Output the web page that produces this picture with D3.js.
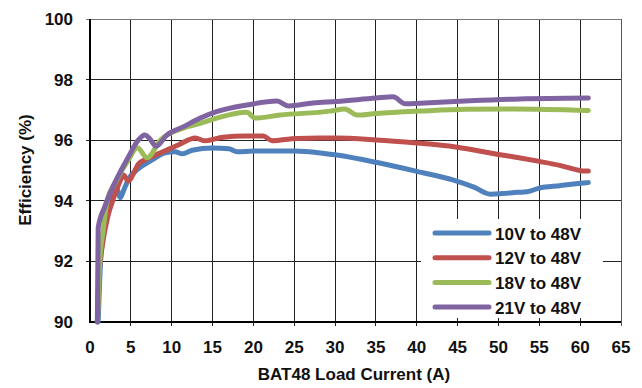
<!DOCTYPE html>
<html>
<head>
<meta charset="utf-8">
<script src="https://cdn.jsdelivr.net/npm/d3@7"></script>
<style>
  body { margin: 0; background: #fff; }
  svg text { font-family: "Liberation Sans", Arial, sans-serif; font-weight: bold; fill: #111; }
</style>
</head>
<body>
<svg width="642" height="388"></svg>
<script>
var xTicks = [0, 5, 10, 15, 20, 25, 30, 35, 40, 45, 50, 55, 60, 65];
var yTicks = [90, 92, 94, 96, 98, 100];
var seriesNames = ["10V to 48V", "12V to 48V", "18V to 48V", "21V to 48V"];
var seriesColors = ["#4F81BD", "#C0504D", "#9BBB59", "#8064A2"];

// [load current (A), efficiency (%)]
var eff10 = [[1.0,90],[1.3,92],[1.8,93.2],[2.5,94.0],[3.0,94.4],[3.3,94.4],[3.7,94.1],[4.2,94.4],[4.8,94.75],
  [5.9,95.05],[7.6,95.35],[9.2,95.58],[10.4,95.62],[11.3,95.55],[12.5,95.67],[15,95.74],[17,95.72],[18,95.62],
  [20,95.64],[25,95.64],[28.2,95.58],[30.2,95.51],[35,95.27],[40,94.97],[44.5,94.68],[47,94.45],[49,94.22],
  [50.5,94.24],[52.3,94.28],[53.5,94.3],[55,94.42],[57.5,94.5],[59.5,94.56],[61,94.6]];
var eff12 = [[0.9,90],[1.1,91.5],[1.5,92.5],[2.2,93.5],[2.9,94.1],[3.6,94.6],[4.1,94.85],[4.7,94.65],[5.5,95.0],
  [5.9,95.2],[7.1,95.4],[8.8,95.6],[10.8,95.84],[12.9,96.07],[14.1,95.98],[16.3,96.1],[19,96.14],[21.2,96.14],
  [22.3,95.98],[25.3,96.06],[30,96.07],[35,96.01],[40,95.91],[42.5,95.85],[45,95.77],[47.5,95.65],[50,95.53],
  [52.5,95.42],[55,95.3],[57.5,95.17],[59.5,95.03],[60.3,94.98],[61,94.98]];
var eff18 = [[0.9,90],[1.2,92],[1.6,93],[2.1,94],[3.1,94.6],[4.7,95.35],[5.8,95.75],[7.0,95.42],[8.6,96.0],
  [11.4,96.4],[13.5,96.56],[15.5,96.73],[19.2,96.92],[20.2,96.73],[23.3,96.83],[29.4,96.96],[31.2,97.03],
  [32.7,96.83],[35,96.88],[40.4,96.96],[46,97.02],[52,97.03],[61,96.98]];
var eff21 = [[0.9,90],[1.0,93.1],[1.8,93.8],[2.7,94.4],[3.7,94.95],[4.7,95.45],[5.9,96.0],[6.7,96.17],[7.3,96.05],
  [8.1,95.8],[9.4,96.17],[11.4,96.44],[13.5,96.73],[15.5,96.94],[19.2,97.16],[22.9,97.29],[24.3,97.13],
  [27.3,97.23],[30.2,97.28],[35,97.39],[37.1,97.43],[38.6,97.2],[40.4,97.22],[46.5,97.3],[52.6,97.36],[61,97.39]];
var allSeries = [eff10, eff12, eff18, eff21];

var svg = d3.select("svg"),
    margin = {top: 19, right: 21, bottom: 66, left: 90},
    width = 642 - margin.left - margin.right,
    height = 388 - margin.top - margin.bottom;

var g = svg.append("g").attr("transform", "translate(" + margin.left + "," + margin.top + ")");

var x = d3.scaleLinear().domain([0, 65]).range([0, width]),
    y = d3.scaleLinear().domain([90, 100]).range([height, 0]);

// grid
g.append("g").selectAll("line.v")
  .data(xTicks.slice(1))
  .enter().append("line")
    .attr("x1", function(d) { return x(d); }).attr("x2", function(d) { return x(d); })
    .attr("y1", 0).attr("y2", height + 4)
    .attr("stroke", function(d) { return d === 65 ? "#555" : "#222"; })
    .attr("stroke-width", 1)
    .attr("shape-rendering", "crispEdges");

g.append("g").selectAll("line.h")
  .data(yTicks.slice(1))
  .enter().append("line")
    .attr("x1", -4).attr("x2", width)
    .attr("y1", function(d) { return y(d); }).attr("y2", function(d) { return y(d); })
    .attr("stroke", function(d) { return d === 100 ? "#777" : "#222"; })
    .attr("stroke-width", 1)
    .attr("shape-rendering", "crispEdges");

// legend background hides the grid behind it
var legendX = 421 - margin.left, legendY = 219 - margin.top;
g.append("rect")
  .attr("x", legendX).attr("y", legendY)
  .attr("width", 182).attr("height", 99)
  .attr("fill", "#fff");

// axes lines
g.append("line").attr("x1", 0).attr("x2", 0).attr("y1", 0).attr("y2", height + 1)
  .attr("stroke", "#000").attr("stroke-width", 2);
g.append("line").attr("x1", -1).attr("x2", width).attr("y1", height).attr("y2", height)
  .attr("stroke", "#000").attr("stroke-width", 2);

// tick labels
g.append("g").selectAll("text")
  .data(xTicks)
  .enter().append("text")
    .attr("x", function(d) { return x(d); })
    .attr("y", height + 31)
    .attr("text-anchor", "middle")
    .style("font-size", "17px")
    .text(function(d) { return d; });

g.append("g").selectAll("text")
  .data(yTicks)
  .enter().append("text")
    .attr("x", -17)
    .attr("y", function(d) { return y(d) + 6; })
    .attr("text-anchor", "end")
    .style("font-size", "17px")
    .text(function(d) { return d; });

// axis titles
svg.append("text")
  .attr("x", 354).attr("y", 380)
  .attr("text-anchor", "middle")
  .style("font-size", "17px")
  .text("BAT48 Load Current (A)");

svg.append("text")
  .attr("transform", "translate(31,170) rotate(-90)")
  .attr("text-anchor", "middle")
  .style("font-size", "17px")
  .text("Efficiency (%)");

// curves
var line = d3.line()
  .x(function(d) { return x(d[0]); })
  .y(function(d) { return y(d[1]); })
  .curve(d3.curveMonotoneX);

g.append("g").selectAll("path")
  .data(allSeries)
  .enter().append("path")
    .attr("d", line)
    .attr("fill", "none")
    .attr("stroke", function(d, i) { return seriesColors[i]; })
    .attr("stroke-width", 5)
    .attr("stroke-linejoin", "round")
    .attr("stroke-linecap", "round");

// legend
var leg = g.append("g").selectAll("g")
  .data(seriesNames)
  .enter().append("g")
    .attr("transform", function(d, i) { return "translate(" + (435 - margin.left) + "," + (233 - margin.top + i * 24.7) + ")"; });

leg.append("line")
  .attr("x1", 0).attr("x2", 54).attr("y1", 0).attr("y2", 0)
  .attr("stroke", function(d, i) { return seriesColors[i]; })
  .attr("stroke-width", 5)
  .attr("stroke-linecap", "round");

leg.append("text")
  .attr("x", 60).attr("y", 6.5)
  .style("font-size", "17px")
  .text(function(d) { return d; });
</script>
</body>
</html>
